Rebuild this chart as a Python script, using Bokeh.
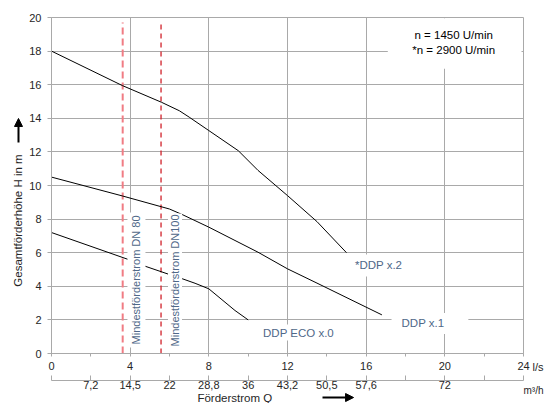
from math import pi
from bokeh.plotting import figure
from bokeh.models import (LinearAxis, FixedTicker, Label, Arrow, NormalHead,
                          BoxAnnotation, Range1d)
from bokeh.embed import file_html
from bokeh.resources import INLINE

# ---- data ----
# *DDP x.2 (2900 U/min)
q_x2 = [0, 3.6, 5.6, 6.5, 7.0, 8.0, 9.5, 10.5, 12.0, 13.5, 15.0]
h_x2 = [18.0, 15.95, 14.95, 14.45, 14.07, 13.27, 12.07, 10.9, 9.4, 7.85, 6.0]
# DDP x.1
q_x1 = [0, 3.6, 6.0, 6.65, 8.0, 10.5, 12.0, 13.5, 16.8]
h_x1 = [10.5, 9.38, 8.6, 8.27, 7.52, 6.03, 5.04, 4.19, 2.3]
# DDP ECO x.0
q_x0 = [0, 3.9, 4.8, 6.0, 6.65, 7.3, 8.0, 9.33, 10.0]
h_x0 = [7.2, 5.6, 5.18, 4.7, 4.45, 4.18, 3.85, 2.56, 2.0]

# minimum flow lines (l/s)
min_flow_dn80 = 3.62
min_flow_dn100 = 5.57
min_flow_top = 19.7

# axes
q_max = 24
h_max = 20
ls_ticks = [0, 4, 8, 12, 16, 20, 24]
ls_minor = [2, 6, 10, 14, 18, 22]
h_ticks = [0, 2, 4, 6, 8, 10, 12, 14, 16, 18, 20]
m3h_pos = [0, 2, 4, 6, 8, 10, 12, 14, 16, 18, 20, 22, 24]
m3h_labels = ["", "7,2", "14,5", "22", "28,8", "36", "43,2", "50,5", "57,6", "", "72", "", ""]

FONT = "Liberation Sans"
GRID = "#a9a9a9"
TXT = "#262626"
LBL = "#4f6888"

# the frame covers the whole canvas; the chart area is 0..24 x 0..20 inside it
p = figure(width=544, height=403, output_backend="svg", toolbar_location=None,
           title=None,
           x_range=Range1d(-2.593, 25.068), y_range=Range1d(-2.976, 21.012),
           min_border=0, min_border_left=0, min_border_right=0,
           min_border_top=0, min_border_bottom=0,
           background_fill_color="white", border_fill_color="white")
p.outline_line_color = None

# grid, limited to the chart area
p.xgrid.ticker = FixedTicker(ticks=ls_ticks)
p.ygrid.ticker = FixedTicker(ticks=h_ticks)
p.xgrid.bounds = (0, q_max)
p.xgrid.cross_bounds = (0, h_max)
p.ygrid.bounds = (0, h_max)
p.ygrid.cross_bounds = (0, q_max)
for g in (p.xgrid, p.ygrid):
    g.grid_line_color = GRID
    g.grid_line_width = 1

# left axis
ya = p.yaxis[0]
ya.fixed_location = 0
ya.bounds = (0, h_max)
ya.ticker = FixedTicker(ticks=h_ticks)
ya.axis_line_color = GRID
ya.major_tick_line_color = GRID
ya.major_tick_out = 4
ya.major_tick_in = 0
ya.minor_tick_line_color = None
ya.major_label_standoff = 6
ya.major_label_text_font = FONT
ya.major_label_text_font_size = "11px"
ya.major_label_text_color = TXT

# primary bottom axis (l/s)
xa = p.xaxis[0]
xa.fixed_location = 0
xa.bounds = (0, q_max)
xa.ticker = FixedTicker(ticks=ls_ticks, minor_ticks=ls_minor)
xa.axis_line_color = GRID
xa.major_tick_line_color = GRID
xa.minor_tick_line_color = GRID
xa.major_tick_out = 3
xa.major_tick_in = 0
xa.minor_tick_out = 3
xa.minor_tick_in = 0
xa.major_label_standoff = 5
xa.major_label_text_font = FONT
xa.major_label_text_font_size = "11px"
xa.major_label_text_color = TXT

# secondary bottom axis (m3/h)
xb = LinearAxis(ticker=FixedTicker(ticks=m3h_pos), fixed_location=-1.62,
                bounds=(0, q_max),
                major_label_overrides={k: v for k, v in zip(m3h_pos, m3h_labels)})
xb.axis_line_color = GRID
xb.major_tick_line_color = GRID
xb.minor_tick_line_color = None
xb.major_tick_in = 5
xb.major_tick_out = 0
xb.major_label_standoff = 0
xb.major_label_text_font = FONT
xb.major_label_text_font_size = "11px"
xb.major_label_text_color = TXT
p.add_layout(xb, "below")

# minimum flow lines
p.segment(x0=[min_flow_dn80], y0=[0], x1=[min_flow_dn80], y1=[min_flow_top],
          line_color="#f07c84", line_width=2, line_dash="7 4")
p.segment(x0=[min_flow_dn100], y0=[0], x1=[min_flow_dn100], y1=[min_flow_top],
          line_color="#d0202a", line_width=1.3, line_dash="5 4")

# curves
for qx, hy in ((q_x2, h_x2), (q_x1, h_x1), (q_x0, h_x0)):
    p.line(qx, hy, line_color="black", line_width=1)

# rotated labels
for xv, txt, pad in ((4.32, "Mindestförderstrom DN 80", 3), (6.28, "Mindestförderstrom DN100", 1)):
    p.add_layout(Label(x=xv, y=0.36, text=txt, angle=pi / 2, text_align="left",
                       text_baseline="middle", text_font=FONT, text_font_size="11px",
                       text_color=LBL, background_fill_color="white", padding=pad))

# curve labels
p.add_layout(Label(x=16.63, y=5.24, text="*DDP x.2", text_align="center",
                   text_baseline="middle", text_font=FONT, text_font_size="11.5px",
                   text_color=LBL, background_fill_color="white", padding=5))
p.add_layout(Label(x=17.29, y=1.79, text="DDP x.1", text_align="left",
                   text_baseline="middle", text_font=FONT, text_font_size="11.5px",
                   text_color=LBL, background_fill_color="white",
                   padding=dict(left=10, right=24, top=4, bottom=5)))
p.add_layout(Label(x=12.56, y=1.25, text="DDP ECO x.0", text_align="center",
                   text_baseline="middle", text_font=FONT, text_font_size="11.5px",
                   text_color=LBL, background_fill_color="white", padding=2))

# speed note
p.add_layout(BoxAnnotation(left=17.1, right=23.9, bottom=16.95, top=19.95,
                           fill_color="white", fill_alpha=1, line_color=None))
p.add_layout(Label(x=20.45, y=18.93, text="n = 1450 U/min", text_align="center",
                   text_baseline="middle", text_font=FONT, text_font_size="11.5px",
                   text_color="black"))
p.add_layout(Label(x=20.45, y=18.04, text="*n = 2900 U/min", text_align="center",
                   text_baseline="middle", text_font=FONT, text_font_size="11.5px",
                   text_color="black"))

# axis titles / units around the chart area
def outer_label(x, y, text, size="11px", angle=0, align="left"):
    p.add_layout(Label(x=x, y=y, text=text, angle=angle, text_align=align,
                       text_baseline="middle", text_font=FONT,
                       text_font_size=size, text_color=TXT))

outer_label(24.457, -0.833, "l/s")
outer_label(24.0, -2.2, "m³/h", size="10px")
outer_label(7.42, -2.62, "Förderstrom Q", size="11.5px")
outer_label(-1.678, 7.917, "Gesamtförderhöhe H in m", size="11.5px", angle=pi / 2, align="center")
p.add_layout(Arrow(end=NormalHead(size=8, fill_color="black", line_color="black"),
                   x_start=13.78, y_start=-2.62, x_end=15.36, y_end=-2.62,
                   line_color="black", line_width=2))
p.add_layout(Arrow(end=NormalHead(size=8, fill_color="black", line_color="black"),
                   x_start=-1.678, y_start=12.56, x_end=-1.678, y_end=13.99,
                   line_color="black", line_width=2))

open("out.html", "w").write(file_html(p, INLINE))
